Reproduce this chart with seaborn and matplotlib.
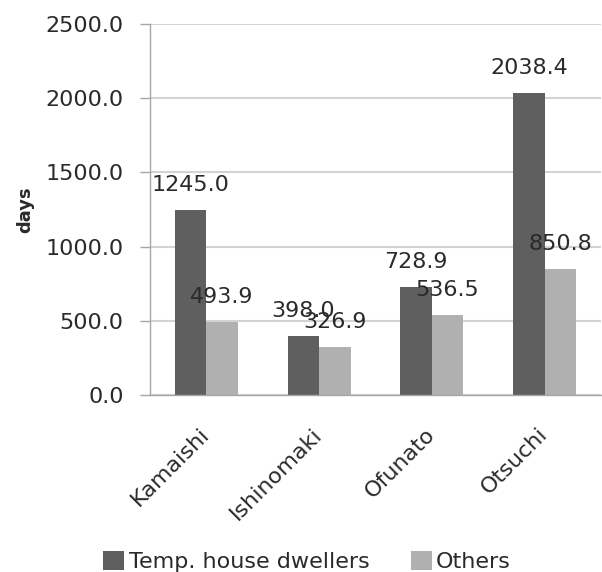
import matplotlib
matplotlib.use("Agg")
import matplotlib.pyplot as plt
import seaborn as sns
import pandas as pd
from matplotlib.patches import Patch

cities = ["Kamaishi", "Ishinomaki", "Ofunato", "Otsuchi"]
temp_house = [1245.0, 398.0, 728.9, 2038.4]
others = [493.9, 326.9, 536.5, 850.8]
series_names = ["Temp. house dwellers", "Others"]
yticks = [0, 500, 1000, 1500, 2000, 2500]

df = pd.DataFrame({
    "city": cities * 2,
    "days": temp_house + others,
    "group": [series_names[0]] * 4 + [series_names[1]] * 4,
})

sns.set_theme(style="white")
plt.rcParams["font.family"] = ["DejaVu Sans"]

txt = "#2a2a2a"
colors = ["#5f5f5f", "#b0b0b0"]
fig = plt.figure(figsize=(6.02, 5.72), dpi=100)
ax = fig.add_axes([0.2492, 0.3094, 0.749, 0.6486])

sns.barplot(data=df, x="city", y="days", hue="group", palette=colors,
            width=0.56, gap=0, saturation=1, legend=False, ax=ax,
            edgecolor="none", errorbar=None)

ax.set_ylim(0, 2500)
ax.set_xlim(-0.5, 3.5)
ax.set_yticks(yticks)
ax.set_yticklabels([f"{v:.1f}" for v in yticks], fontsize=16, color=txt)
ax.yaxis.grid(True, color="#d3d3d3", linewidth=1.5)
ax.set_axisbelow(True)

ax.set_xticks([0, 1, 2, 3])
ax.set_xticklabels(cities, rotation=45, ha="right", va="center",
                   rotation_mode="anchor", fontsize=16, color=txt)
ax.set_xticks([-0.5, 0.5, 1.5, 2.5, 3.5], minor=True)
ax.tick_params(axis="x", which="major", length=0, pad=26)
ax.tick_params(axis="x", which="minor", length=7, color="#a6a6a6", width=1)
ax.tick_params(axis="y", length=7, color="#a6a6a6", width=1, pad=12, left=True)

for s in ["top", "right"]:
    ax.spines[s].set_visible(False)
for s in ["left", "bottom"]:
    ax.spines[s].set_color("#a6a6a6")
    ax.spines[s].set_linewidth(1)

ax.set_xlabel("")
ax.set_ylabel("days", fontsize=13, fontweight="bold", labelpad=8, color=txt)

for container in ax.containers:
    for bar in container:
        h = bar.get_height()
        ax.annotate(f"{h:.1f}", (bar.get_x() + bar.get_width() / 2, h),
                    xytext=(0, 18), textcoords="offset points",
                    ha="center", va="center", fontsize=16, color=txt)

handles = [Patch(facecolor=c, edgecolor="none") for c in colors]
fig.legend(handles, series_names, loc="center", bbox_to_anchor=(0.51, 0.018),
           ncol=2, frameon=False, fontsize=16, handlelength=0.95, handleheight=0.95,
           handletextpad=0.2, columnspacing=1.85, labelcolor=txt,
           borderpad=0, borderaxespad=0)

fig.savefig("out.png", dpi=100)
